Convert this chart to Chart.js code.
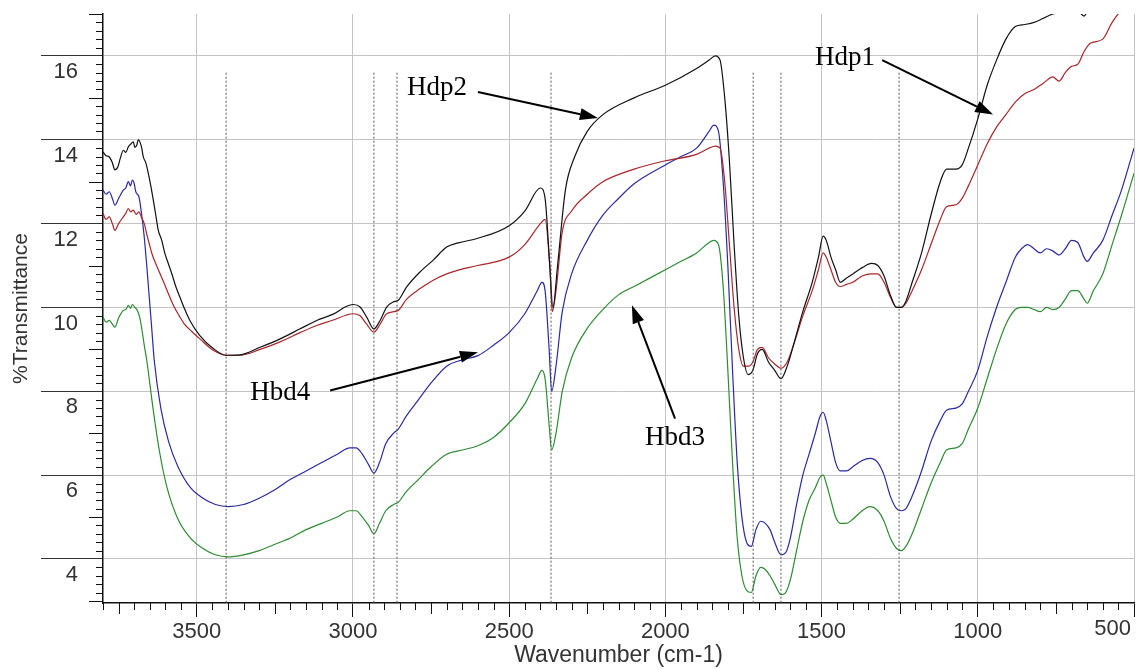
<!DOCTYPE html>
<html><head><meta charset="utf-8">
<script src="https://cdn.jsdelivr.net/npm/chart.js@4.4.0/dist/chart.umd.min.js"></script>
<style>html,body{margin:0;padding:0;background:#fff;}#wrap{width:1138px;height:669px;}</style>
</head><body><div id="wrap"><canvas id="c" width="1138" height="669"></canvas></div>
<script>
const xTicks = [3500, 3000, 2500, 2000, 1500, 1000, 500];
const yTicks = [4, 6, 8, 10, 12, 14, 16];
const markerWavenumbers = [3406, 2933, 2859, 2366, 1719, 1630, 1252];
const markerTop = 15.6;

const blackWn = [3800,3790,3780,3770,3762,3752,3745,3735,3727,3719,3711,3703,3698,3692,3687,3682,3676,3671,3663,3655,3647,3639,3631,3623,3612,3602,3591,3580,3567,3554,3538,3522,3490,3447,3406,3361,3297,3233,3169,3116,3063,3020,2999,2977,2956,2933,2913,2892,2871,2855,2828,2785,2743,2700,2663,2600,2500,2450,2400,2385,2370,2360,2345,2320,2290,2250,2200,2100,2000,1900,1860,1840,1825,1810,1795,1780,1765,1750,1735,1720,1705,1690,1670,1650,1630,1610,1590,1560,1530,1510,1495,1485,1470,1455,1440,1420,1400,1370,1340,1320,1300,1280,1260,1245,1230,1210,1180,1150,1120,1100,1070,1050,1030,1000,970,940,910,880,850,820,790,760,730,700,680,660,640,600,500];
const blackT = [13.71,13.62,13.59,13.45,13.28,13.36,13.55,13.75,13.7,13.83,13.9,13.95,13.82,13.87,14.0,13.95,13.8,13.59,13.45,13.2,12.9,12.56,12.2,11.84,11.6,11.29,11.05,10.81,10.5,10.25,9.95,9.69,9.33,9.02,8.86,8.87,9.05,9.25,9.49,9.69,9.84,10.03,10.07,10.01,9.77,9.49,9.69,10.01,10.13,10.17,10.49,10.85,11.13,11.44,11.54,11.65,11.95,12.3,12.85,12.6,11.0,10.0,11.0,12.8,13.6,14.2,14.6,15.0,15.3,15.7,15.9,16.0,15.9,15.0,13.5,11.5,9.8,8.8,8.4,8.5,8.9,9.0,8.7,8.5,8.3,8.6,9.1,9.9,10.6,11.2,11.7,11.6,11.2,10.9,10.6,10.7,10.8,10.95,11.05,11.0,10.75,10.3,10.0,10.0,10.15,10.6,11.3,12.2,13.0,13.3,13.3,13.4,13.8,14.5,15.3,15.9,16.4,16.7,16.75,16.8,16.9,17.0,17.05,17.2,17.1,16.95,17.2,17.4,17.8];

const redWn = [3800,3790,3780,3770,3762,3750,3735,3727,3719,3711,3703,3694,3685,3677,3668,3660,3652,3644,3636,3620,3604,3588,3572,3556,3540,3515,3490,3447,3406,3361,3297,3233,3169,3116,3063,3020,2999,2977,2956,2933,2913,2892,2855,2828,2785,2743,2700,2663,2600,2500,2450,2400,2385,2370,2362,2350,2330,2300,2250,2200,2100,2000,1900,1860,1840,1825,1810,1795,1780,1765,1750,1735,1720,1705,1690,1670,1650,1630,1610,1590,1560,1530,1510,1495,1485,1470,1455,1440,1420,1400,1370,1340,1320,1300,1280,1260,1245,1230,1210,1180,1150,1120,1100,1070,1050,1030,1000,970,940,910,880,850,820,790,760,740,720,700,680,660,640,600,570,540,500];
const redT = [12.24,12.1,12.16,12.0,11.84,12.0,12.16,12.25,12.36,12.28,12.32,12.22,12.28,12.15,12.0,11.75,11.52,11.3,11.13,10.85,10.57,10.28,10.01,9.8,9.61,9.42,9.25,8.98,8.86,8.86,9.0,9.18,9.4,9.57,9.7,9.82,9.85,9.8,9.6,9.41,9.6,9.85,9.93,10.2,10.45,10.65,10.8,10.89,11.0,11.2,11.5,12.0,12.1,11.0,9.9,10.4,11.8,12.3,12.7,13.0,13.3,13.5,13.65,13.8,13.85,13.8,13.0,11.5,10.0,9.0,8.6,8.6,8.7,9.0,9.05,8.8,8.65,8.55,8.7,9.1,9.8,10.4,10.9,11.3,11.2,10.9,10.6,10.5,10.55,10.6,10.75,10.8,10.8,10.6,10.25,10.0,10.0,10.1,10.4,10.9,11.5,12.1,12.4,12.45,12.6,12.9,13.4,13.9,14.3,14.6,14.9,15.1,15.2,15.35,15.5,15.4,15.6,15.75,15.8,16.1,16.3,16.4,16.8,17.1,17.4];

const blueWn = [3800,3790,3780,3770,3762,3750,3735,3727,3719,3712,3706,3700,3695,3685,3676,3668,3660,3652,3644,3636,3615,3590,3560,3520,3480,3440,3400,3350,3300,3250,3200,3150,3100,3050,3010,2990,2970,2950,2933,2915,2895,2870,2855,2830,2790,2750,2700,2650,2600,2550,2500,2450,2410,2395,2385,2372,2364,2350,2330,2300,2250,2200,2150,2100,2000,1950,1900,1860,1845,1830,1815,1800,1785,1770,1755,1740,1725,1710,1695,1680,1665,1650,1630,1615,1600,1580,1560,1540,1520,1505,1495,1485,1470,1455,1440,1420,1400,1370,1345,1320,1300,1280,1260,1245,1230,1210,1180,1150,1120,1100,1070,1050,1030,1000,970,940,910,880,860,840,820,800,780,760,740,720,700,680,660,650,630,600,570,540,500];
const blueT = [12.8,12.7,12.76,12.6,12.44,12.6,12.8,12.85,13.0,12.9,13.04,12.95,12.76,12.64,12.2,11.68,11.0,10.25,9.5,8.74,7.6,6.8,6.2,5.7,5.45,5.3,5.25,5.3,5.45,5.65,5.9,6.1,6.3,6.5,6.65,6.65,6.5,6.25,6.05,6.3,6.75,7.0,7.1,7.4,7.8,8.2,8.6,8.75,8.85,9.1,9.4,9.85,10.4,10.6,10.4,9.0,8.0,8.6,9.9,10.8,11.6,12.2,12.6,12.95,13.4,13.6,13.8,14.2,14.35,14.2,13.0,11.0,8.5,6.3,5.0,4.4,4.3,4.7,4.9,4.85,4.7,4.4,4.1,4.15,4.5,5.3,6.0,6.5,7.0,7.4,7.5,7.3,6.8,6.3,6.1,6.1,6.2,6.35,6.4,6.3,6.0,5.5,5.2,5.15,5.2,5.5,6.1,6.8,7.3,7.55,7.6,7.7,8.0,8.5,9.3,10.0,10.6,11.2,11.4,11.5,11.4,11.3,11.4,11.35,11.25,11.4,11.6,11.55,11.2,11.1,11.3,11.6,12.2,12.8,13.8];

const greenWn = [3800,3790,3780,3770,3762,3750,3735,3727,3719,3712,3706,3698,3690,3682,3675,3668,3660,3640,3620,3595,3560,3520,3480,3440,3400,3350,3300,3250,3200,3150,3100,3050,3010,2990,2970,2950,2933,2915,2895,2870,2855,2830,2790,2750,2700,2650,2600,2550,2500,2450,2410,2395,2385,2372,2364,2350,2330,2300,2250,2200,2150,2100,2000,1950,1900,1860,1845,1830,1815,1800,1785,1770,1755,1740,1725,1710,1695,1680,1665,1650,1630,1615,1600,1580,1560,1540,1520,1505,1495,1485,1470,1455,1440,1420,1400,1370,1345,1320,1300,1280,1260,1245,1230,1210,1180,1150,1120,1100,1070,1050,1030,1000,970,940,910,880,860,840,820,800,780,760,740,720,700,680,660,650,630,600,570,540,500];
const greenT = [9.77,9.65,9.69,9.6,9.53,9.75,9.93,9.95,10.05,9.98,10.07,10.0,9.93,9.75,9.45,9.1,8.74,7.6,6.6,5.7,4.95,4.5,4.25,4.1,4.05,4.1,4.2,4.35,4.5,4.7,4.85,5.0,5.15,5.15,5.0,4.8,4.6,4.85,5.15,5.3,5.35,5.6,5.9,6.2,6.5,6.6,6.7,6.9,7.25,7.7,8.3,8.5,8.3,7.2,6.6,7.0,8.0,8.8,9.5,9.95,10.3,10.5,10.9,11.1,11.3,11.55,11.6,11.5,10.5,8.5,6.3,4.5,3.6,3.25,3.2,3.6,3.8,3.75,3.6,3.4,3.15,3.2,3.5,4.2,4.9,5.4,5.7,5.95,6.0,5.8,5.4,5.0,4.85,4.85,4.95,5.15,5.25,5.15,4.9,4.5,4.25,4.2,4.3,4.6,5.2,5.8,6.3,6.6,6.65,6.75,7.1,7.6,8.3,9.0,9.6,9.95,10.0,10.0,9.95,9.9,10.0,9.95,10.0,10.2,10.4,10.4,10.2,10.1,10.4,10.8,11.5,12.2,13.2];

// annotation labels: text, text centre (wavenumber, %T), arrow start, arrow tip
const noteText = ['Hdp2', 'Hdp1', 'Hbd4', 'Hbd3'];
const noteAt = [[2731, 15.24], [1425, 15.95], [3233, 7.97], [1969, 6.9]];
const noteFrom = [[2600, 15.14], [1306, 15.9], [3073, 8.02], [1969, 7.35]];
const noteTo = [[2216, 14.52], [951, 14.6], [2600, 8.93], [2107, 10.05]];

function pts(xs, ys) { return xs.map((v, i) => ({ x: v, y: ys[i] })); }

const series = [
  { data: pts(blackWn, blackT), color: '#111111' },
  { data: pts(redWn, redT), color: '#a8262a' },
  { data: pts(blueWn, blueT), color: '#2a2aa0' },
  { data: pts(greenWn, greenT), color: '#2f8a34' }
];

const datasets = [];
markerWavenumbers.forEach(w => datasets.push({
  data: [{ x: w, y: markerTop }, { x: w, y: 2.95 }],
  borderColor: '#555', borderWidth: 1, borderDash: [2, 2], pointRadius: 0, tension: 0
}));
series.forEach(s => datasets.push({
  data: s.data, borderColor: s.color, borderWidth: 1.2, pointRadius: 0,
  cubicInterpolationMode: 'monotone'
}));

const overlay = {
  id: 'overlay',
  afterDraw(chart) {
    const { ctx, chartArea: a, scales: { x, y } } = chart;
    ctx.save();
    ctx.strokeStyle = '#111'; ctx.lineWidth = 1;
    ctx.beginPath();
    for (let w = 550; w <= 3800; w += 50) {
      if (w % 500 === 0) continue;
      const px = Math.round(x.getPixelForValue(w)) + 0.5;
      const len = (w % 250 === 0) ? 11 : 7;
      ctx.moveTo(px, a.bottom); ctx.lineTo(px, a.bottom + len);
    }
    for (let k = 15; k <= 85; k++) {
      if (k % 10 === 0) continue;
      const py = Math.round(y.getPixelForValue(k / 5)) + 0.5;
      const len = (k % 5 === 0) ? 14 : 7;
      ctx.moveTo(a.left, py); ctx.lineTo(a.left - len, py);
    }
    ctx.stroke();
    ctx.fillStyle = '#333';
    ctx.font = '22px "Liberation Sans", Arial, sans-serif';
    ctx.textAlign = 'right'; ctx.textBaseline = 'middle';
    ctx.fillText('500', x.getPixelForValue(500) - 3, 629);
    ctx.fillStyle = '#000'; ctx.strokeStyle = '#000'; ctx.lineWidth = 2;
    ctx.font = '27px "Liberation Serif", "Times New Roman", serif';
    ctx.textAlign = 'center'; ctx.textBaseline = 'middle';
    noteText.forEach((t, i) => {
      ctx.fillText(t, x.getPixelForValue(noteAt[i][0]), y.getPixelForValue(noteAt[i][1]));
      const x0 = x.getPixelForValue(noteFrom[i][0]), y0 = y.getPixelForValue(noteFrom[i][1]);
      const x1 = x.getPixelForValue(noteTo[i][0]), y1 = y.getPixelForValue(noteTo[i][1]);
      const ang = Math.atan2(y1 - y0, x1 - x0), L = 18, W = 6;
      const bx = x1 - L * Math.cos(ang), by = y1 - L * Math.sin(ang);
      ctx.beginPath(); ctx.moveTo(x0, y0); ctx.lineTo(bx, by); ctx.stroke();
      ctx.beginPath(); ctx.moveTo(x1, y1);
      ctx.lineTo(bx + W * Math.sin(ang), by - W * Math.cos(ang));
      ctx.lineTo(bx - W * Math.sin(ang), by + W * Math.cos(ang));
      ctx.closePath(); ctx.fill();
    });
    ctx.restore();
  }
};

new Chart(document.getElementById('c'), {
  type: 'line',
  data: { datasets },
  plugins: [overlay],
  options: {
    responsive: false, animation: false, devicePixelRatio: 1,
    layout: { padding: { left: 0, right: 4, top: 14, bottom: 0 } },
    plugins: { legend: { display: false }, tooltip: { enabled: false } },
    elements: { line: { borderJoinStyle: 'round' } },
    scales: {
      x: {
        type: 'linear', reverse: true, min: 500, max: 3800,
        afterBuildTicks: s => { s.ticks = xTicks.map(v => ({ value: v })); },
        afterFit: s => { s.height = 66; s.paddingLeft = 0; s.paddingRight = 0; },
        grid: { color: '#c4c4c4', lineWidth: 1, tickLength: 14, tickColor: '#111' },
        border: { color: '#111', width: 1.5 },
        ticks: {
          autoSkip: false, maxRotation: 0, padding: 2, color: '#333',
          font: { family: '"Liberation Sans", Arial, sans-serif', size: 22 },
          callback: v => (v === 500 ? '' : String(v))
        },
        title: {
          display: true, text: 'Wavenumber (cm-1)', color: '#333',
          font: { family: '"Liberation Sans", Arial, sans-serif', size: 23 },
          padding: { top: 0, bottom: 0 }
        }
      },
      y: {
        type: 'linear', min: 2.95, max: 17,
        afterBuildTicks: s => { s.ticks = yTicks.map(v => ({ value: v })); },
        afterFit: s => { s.width = 103; s.paddingTop = 0; s.paddingBottom = 0; },
        grid: { color: '#c4c4c4', lineWidth: 1, tickLength: 62, tickColor: '#333' },
        border: { color: '#111', width: 1.5 },
        ticks: {
          padding: -37, labelOffset: 16, color: '#333',
          font: { family: '"Liberation Sans", Arial, sans-serif', size: 22 }
        },
        title: {
          display: true, text: '%Transmittance', color: '#333',
          font: { family: '"Liberation Sans", Arial, sans-serif', size: 21 },
          padding: { top: 9, bottom: 0 }
        }
      }
    }
  }
});
</script></body></html>
